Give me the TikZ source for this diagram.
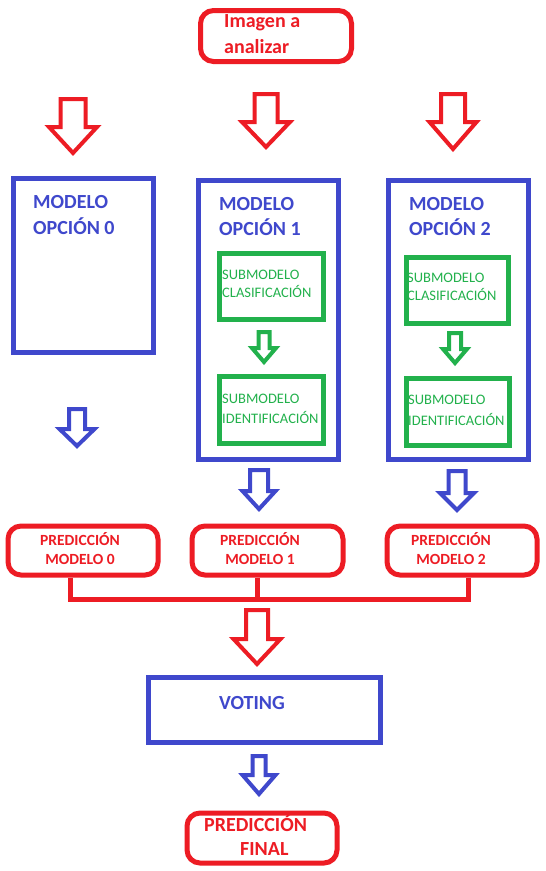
\documentclass[tikz,border=0pt]{standalone}
\usepackage{fontspec}
\setmainfont{Carlito}
\definecolor{pred}{RGB}{237,28,36}
\definecolor{pblue}{RGB}{63,72,204}
\definecolor{pgreen}{RGB}{34,177,76}
\newcommand{\hollowarrow}[7]{%
  \draw[#1, line join=miter, miter limit=10] ({#2-#6},#3) -- ({#2+#6},#3) -- ({#2+#6},#4) -- ({#2+#7},#4) -- (#2,#5) -- ({#2-#7},#4) -- ({#2-#6},#4) -- cycle;}
\tikzset{
  bluebox/.style={draw=pblue, line width=5pt, anchor=north west, inner sep=0pt},
  greenbox/.style={draw=pgreen, line width=4.5pt, anchor=north west, inner sep=0pt},
  redround/.style={draw=pred, line width=5pt, rounded corners=13pt, anchor=north west, inner sep=0pt},
  redarrow/.style={draw=pred, line width=4pt},
  bluearrow/.style={draw=pblue, line width=4pt},
  greenarrow/.style={draw=pgreen, line width=4pt},
  busline/.style={draw=pred, line width=5pt, line join=miter},
  modtxt/.style={text=pblue, font=\fontsize{20}{24}\selectfont\bfseries, anchor=base west, inner sep=0pt},
  subtxt/.style={text=pgreen, font=\fontsize{14.5}{17}\selectfont, anchor=base west, inner sep=0pt},
  predtxt/.style={text=pred, font=\fontsize{15.5}{18}\selectfont\bfseries, anchor=base, inner sep=0pt},
  bigred/.style={text=pred, font=\fontsize{20}{24}\selectfont\bfseries, anchor=base west, inner sep=0pt},
}
\begin{document}
\begin{tikzpicture}[x=1pt,y=-1pt]
\useasboundingbox[fill=white] (0,0) rectangle (546,871);

% input
\node[redround, minimum width=151pt, minimum height=51pt] (img) at (198,8) {};
\node[bigred] (imgt1) at (224,27) {Imagen a};
\node[bigred] (imgt2) at (224,53) {analizar};

% top red arrows
\hollowarrow{redarrow}{73}{99}{127}{153}{12.5}{24}
\hollowarrow{redarrow}{266}{94}{122}{147}{11.5}{24}
\hollowarrow{redarrow}{453}{94}{122}{149}{12}{23.5}

% model boxes
\node[bluebox, minimum width=140pt, minimum height=174pt] (m0) at (10.5,175.5) {};
\node[modtxt] (m0t1) at (33,208) {MODELO};
\node[modtxt] (m0t2) at (33,234) {OPCIÓN 0};

\node[bluebox, minimum width=140pt, minimum height=279pt] (m1) at (195.5,177.5) {};
\node[modtxt] (m1t1) at (219,210) {MODELO};
\node[modtxt] (m1t2) at (219,235) {OPCIÓN 1};

\node[bluebox, minimum width=140pt, minimum height=279pt] (m2) at (385.5,177.5) {};
\node[modtxt] (m2t1) at (409,210) {MODELO};
\node[modtxt] (m2t2) at (409,235) {OPCIÓN 2};

% sub-models
\node[greenbox, minimum width=104pt, minimum height=66pt] (s1a) at (217,251) {};
\node[subtxt] (s1at1) at (222,279) {SUBMODELO};
\node[subtxt] (s1at2) at (222,297) {CLASIFICACIÓN};
\node[greenbox, minimum width=104pt, minimum height=67pt] (s1b) at (217,374) {};
\node[subtxt] (s1bt1) at (222,403) {SUBMODELO};
\node[subtxt] (s1bt2) at (222,423) {IDENTIFICACIÓN};

\node[greenbox, minimum width=102pt, minimum height=66pt] (s2a) at (404,255) {};
\node[subtxt] (s2at1) at (407,282) {SUBMODELO};
\node[subtxt] (s2at2) at (407,300) {CLASIFICACIÓN};
\node[greenbox, minimum width=103pt, minimum height=67pt] (s2b) at (404,376) {};
\node[subtxt] (s2bt1) at (408,404) {SUBMODELO};
\node[subtxt] (s2bt2) at (408,425) {IDENTIFICACIÓN};

\hollowarrow{greenarrow}{264}{332}{348}{362}{5.5}{12}
\hollowarrow{greenarrow}{455}{333}{349}{363}{6}{12}

% blue arrows to predictions
\hollowarrow{bluearrow}{77}{409}{429}{446}{8}{17.5}
\hollowarrow{bluearrow}{259}{470}{491}{509}{9}{16.5}
\hollowarrow{bluearrow}{457}{471}{493}{510}{8.5}{17}

% predictions
\node[redround, minimum width=150pt, minimum height=49pt] (p0) at (5.5,523.5) {};
\node[predtxt] (p0t1) at (80,545) {PREDICCIÓN};
\node[predtxt] (p0t2) at (80,564) {MODELO 0};
\node[redround, minimum width=151pt, minimum height=49pt] (p1) at (189.5,523.5) {};
\node[predtxt] (p1t1) at (260,545) {PREDICCIÓN};
\node[predtxt] (p1t2) at (260,564) {MODELO 1};
\node[redround, minimum width=150pt, minimum height=49pt] (p2) at (384.5,523.5) {};
\node[predtxt] (p2t1) at (451,545) {PREDICCIÓN};
\node[predtxt] (p2t2) at (451,564) {MODELO 2};

% bus
\coordinate (j0) at (70,599);
\coordinate (j1) at (257,599);
\coordinate (j2) at (468,599);
\draw[busline] (p0.south -| j0) -- (j0) -- (j2) -- (p2.south -| j2);
\draw[busline] (p1.south -| j1) -- (j1);

\hollowarrow{redarrow}{257}{610}{639}{664}{11}{23.5}

% voting
\node[bluebox, minimum width=232pt, minimum height=65pt] (vote) at (145.5,674.5) {};
\node[modtxt] (votet) at (219,709) {VOTING};

\hollowarrow{bluearrow}{259}{756}{775}{794}{6.5}{16.5}

% final
\node[redround, minimum width=150pt, minimum height=50pt] (fin) at (184.5,810.5) {};
\node[bigred] (fint1) at (204,831.5) {PREDICCIÓN};
\node[bigred] (fint2) at (240,855.5) {FINAL};
\end{tikzpicture}
\end{document}
